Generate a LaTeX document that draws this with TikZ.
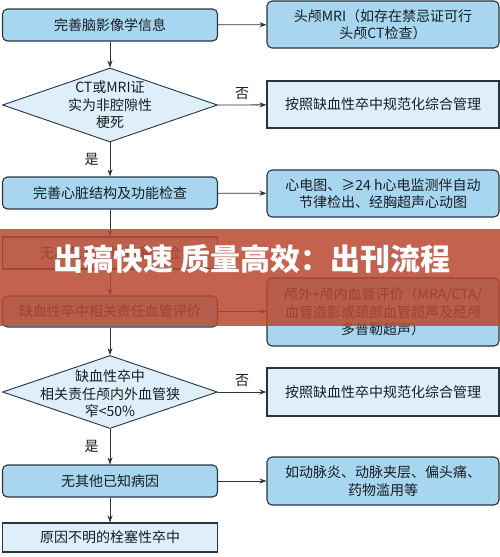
\documentclass[tikz,border=0pt]{standalone}
\usepackage{fontspec}
\setmainfont{Noto Sans CJK SC}
\usetikzlibrary{shapes.geometric,arrows.meta}
\definecolor{boxblue}{RGB}{168,214,240}
\definecolor{paleblue}{RGB}{222,239,250}
\definecolor{edgegray}{RGB}{40,52,62}
\definecolor{bannerred}{RGB}{185,72,48}

\begin{document}
\begin{tikzpicture}[x=1pt,y=1pt]
\tikzstyle{every node}+=[inner sep=0pt,font=\fontsize{14}{17.5}\selectfont,text=edgegray!55!black]
\tikzstyle{roundbox}=[draw=edgegray,line width=1.1pt,fill=boxblue,rounded corners=5pt,align=center]
\tikzstyle{flatbox}=[draw=edgegray,line width=1.1pt,fill=paleblue,align=center]
\tikzstyle{decision}=[diamond,draw=edgegray,line width=0.9pt,fill=paleblue,minimum width=215pt,minimum height=74pt]
\tikzstyle{link}=[draw=edgegray,line width=0.8pt,-{Stealth[length=7pt,width=5pt]}]
\useasboundingbox (0,0) rectangle (500,-557);
% left column
\node [roundbox,minimum width=215pt,minimum height=32pt] (brain) at (110,-25) {完善脑影像学信息};
\node [decision] (ctmri) at (110,-105) {};
\node [align=center] (ctmritext) at (ctmri) {CT或MRI证\\实为非腔隙性\\梗死};
\node [roundbox,minimum width=215pt,minimum height=32pt] (heart) at (110,-193) {完善心脏结构及功能检查};
\node [flatbox,minimum width=215pt,minimum height=32pt] (norisk) at (110,-253) {无高危心源性栓塞风险};
\node [roundbox,minimum width=215pt,minimum height=31pt] (vessel) at (110,-311.5) {缺血性卒中相关责任血管评价};
\node [decision,minimum height=73pt] (stenosis) at (110,-392) {};
\node [align=center] (stenosistext) at (110,-394) {缺血性卒中\\相关责任颅内外血管狭\\窄<50\%};
\node [roundbox,minimum width=215pt,minimum height=32pt] (nocause) at (110,-481) {无其他已知病因};
\node [flatbox,minimum width=215pt,minimum height=29pt] (esus) at (110,-537.5) {原因不明的栓塞性卒中};
% right column
\node [roundbox,minimum width=232pt,minimum height=47pt] (headmri) at (383,-24.5) {头颅MRI（如存在禁忌证可行\\头颅CT检查）};
\node [flatbox,minimum width=232pt,minimum height=47pt] (manage1) at (383,-104.5) {按照缺血性卒中规范化综合管理};
\node [roundbox,minimum width=232pt,minimum height=47pt] (ecg) at (383,-193.5) {心电图、≥24 h心电监测伴自动\\节律检出、经胸超声心动图};
\node [roundbox,minimum width=232pt,minimum height=68pt] (angio) at (383,-312) {颅外+颅内血管评价（MRA/CTA/\\血管造影或颈部血管超声及经颅\\多普勒超声）};
\node [flatbox,minimum width=232pt,minimum height=48pt] (manage2) at (383,-392) {按照缺血性卒中规范化综合管理};
\node [roundbox,minimum width=232pt,minimum height=48pt] (others) at (383,-481) {如动脉炎、动脉夹层、偏头痛、\\药物滥用等};
% connectors
\draw [link] (brain) -- (ctmri);
\draw [link] (ctmri) -- node [midway,left=11pt] (yes1) {是} (heart);
\draw [link] (heart) -- (norisk);
\draw [link] (norisk) -- (vessel);
\draw [link] (vessel) -- (stenosis);
\draw [link] (stenosis) -- node [midway,left=11pt] (yes2) {是} (nocause);
\draw [link] (nocause) -- (esus);
\draw [link] (brain) -- (headmri);
\draw [link] (ctmri.east) -- node [midway,above=5pt] (no1) {否} (manage1);
\draw [link] (heart) -- (ecg);
\draw [link] (vessel) -- (angio.west |- vessel);
\draw [link] (stenosis.east) -- node [midway,above=5pt] (no2) {否} (manage2);
\draw [link] (nocause) -- (others);
% banner
\fill [bannerred,opacity=0.85] (0,-229) rectangle (500,-326);
\node [text=white,font=\fontsize{30}{30}\selectfont\bfseries] (banner) at (252,-259) {出稿快速 质量高效：出刊流程};
\end{tikzpicture}
\end{document}
